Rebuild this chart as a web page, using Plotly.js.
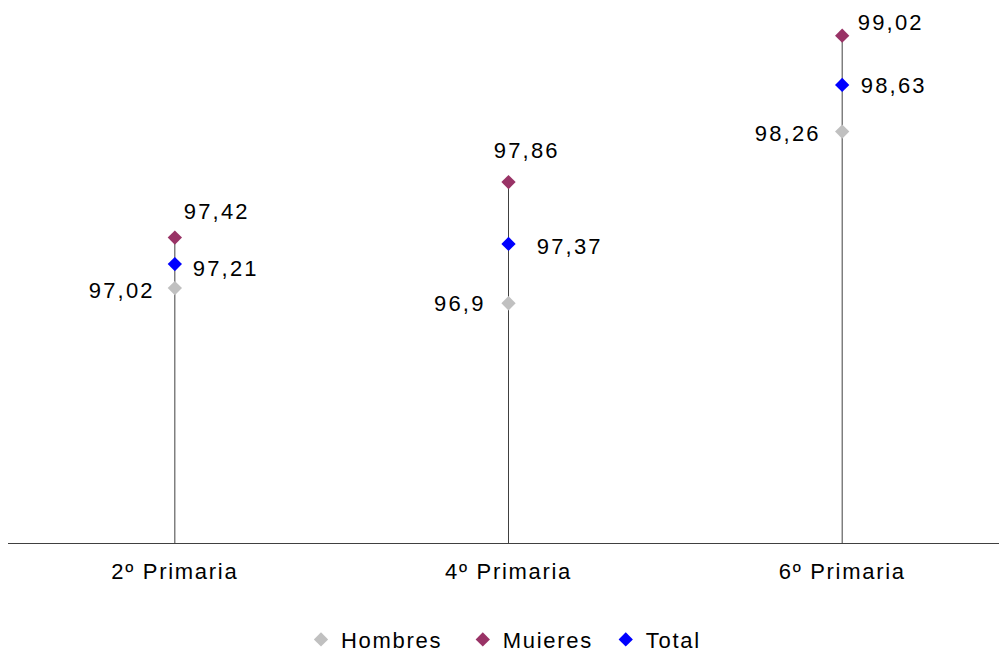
<!DOCTYPE html>
<html>
<head>
<meta charset="utf-8">
<script src="https://cdn.plot.ly/plotly-3.0.1.min.js"></script>
<style>html,body{margin:0;padding:0;background:#fff;}#chart{width:999px;height:652px;}
text{letter-spacing:1.7px;}
.annotation text{letter-spacing:2.2px;}</style>
</head>
<body>
<div id="chart"></div>
<script>
var categories = ["2º Primaria", "4º Primaria", "6º Primaria"];
var hombres = [97.02, 96.9, 98.26];
var mujeres = [97.42, 97.86, 99.02];
var total = [97.21, 97.37, 98.63];
var seriesNames = ["Hombres\u00a0\u00a0", "Muieres\u00a0", "Total"];
var baseline = 95;

// label offsets (pixels) for each series/category
var offH = [[-53, 2], [-49, 0], [-54, 2]];
var offM = [[42, -26], [18, -32], [49, -13]];
var offT = [[51, 4], [61, 3], [52, 1]];

var lx = [], ly = [];
for (var i = 0; i < categories.length; i++) {
  lx.push(categories[i], categories[i], null);
  ly.push(baseline, Math.max(hombres[i], mujeres[i], total[i]), null);
}

var font = "Liberation Sans, Arial, sans-serif";
var traces = [
  {x: lx, y: ly, mode: "lines", line: {color: "#404040", width: 1}, showlegend: false, hoverinfo: "skip"},
  {x: categories, y: hombres, name: seriesNames[0], mode: "markers", marker: {symbol: "diamond", size: 11, color: "#C0C0C0"}},
  {x: categories, y: mujeres, name: seriesNames[1], mode: "markers", marker: {symbol: "diamond", size: 11, color: "#993366"}},
  {x: categories, y: total, name: seriesNames[2], mode: "markers", marker: {symbol: "diamond", size: 11, color: "#0000FF"}}
];

function fmt(v) { return String(v).replace(".", ","); }
var annotations = [];
function addLabels(vals, offs) {
  for (var i = 0; i < vals.length; i++) {
    annotations.push({x: categories[i], y: vals[i], text: fmt(vals[i]), showarrow: false,
      xshift: offs[i][0], yshift: -offs[i][1], font: {family: font, size: 22, color: "#000"}});
  }
}
addLabels(hombres, offH);
addLabels(mujeres, offM);
addLabels(total, offT);

var layout = {
  width: 999, height: 652,
  margin: {l: 8, r: 0, t: 13, b: 109, autoexpand: false},
  paper_bgcolor: "#fff", plot_bgcolor: "#fff",
  font: {family: font, size: 22, color: "#000"},
  showlegend: true,
  legend: {orientation: "h", x: 0.5, xanchor: "center", yref: "container", y: 0.019, yanchor: "middle",
    font: {family: font, size: 22, color: "#000"}, itemwidth: 30, tracegroupgap: 0},
  xaxis: {type: "category", range: [-0.5, 2.47], showline: true, linecolor: "#404040", linewidth: 1,
    showgrid: false, zeroline: false, ticks: "", tickfont: {family: font, size: 22, color: "#000"},
    ticklabelstandoff: 9, automargin: false, fixedrange: true},
  yaxis: {range: [baseline, 99.2], visible: false, showgrid: false, zeroline: false, fixedrange: true},
  annotations: annotations
};
Plotly.newPlot("chart", traces, layout, {displayModeBar: false, staticPlot: true});
</script>
</body>
</html>
